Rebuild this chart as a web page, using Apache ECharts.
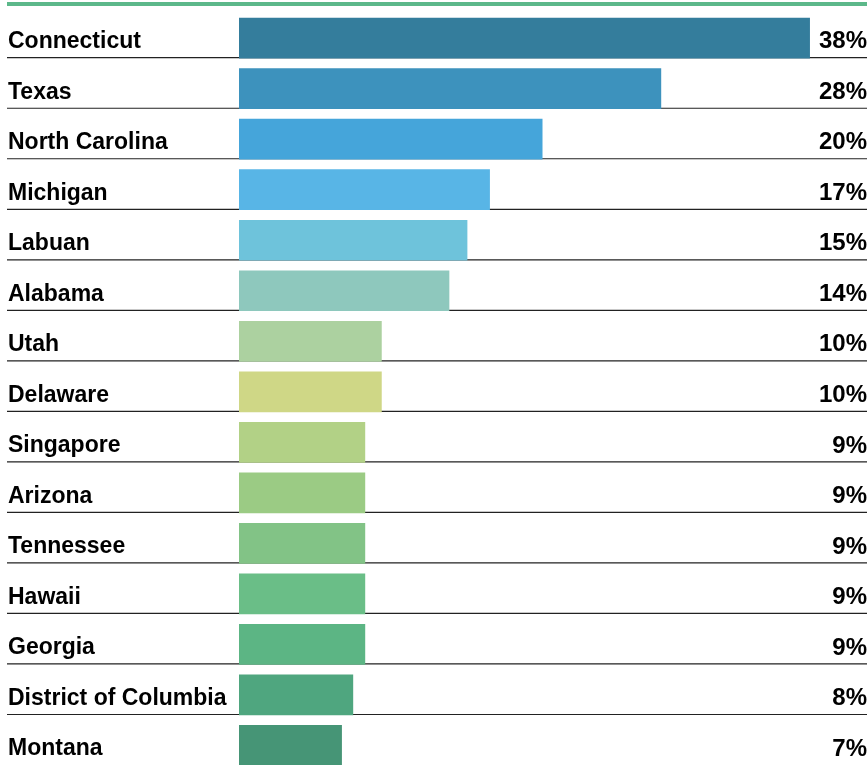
<!DOCTYPE html>
<html>
<head>
<meta charset="utf-8">
<script src="https://cdn.jsdelivr.net/npm/echarts@6/dist/echarts.min.js"></script>
<style>html,body{margin:0;padding:0;background:#fff;}#c{width:867px;height:765px;}</style>
</head>
<body>
<div id="c"></div>
<script>
const categories = ["Connecticut","Texas","North Carolina","Michigan","Labuan","Alabama","Utah","Delaware","Singapore","Arizona","Tennessee","Hawaii","Georgia","District of Columbia","Montana"];
const values = [38.0, 28.1, 20.2, 16.7, 15.2, 14.0, 9.5, 9.5, 8.4, 8.4, 8.4, 8.4, 8.4, 7.6, 6.85];
const valueLabels = ["38%","28%","20%","17%","15%","14%","10%","10%","9%","9%","9%","9%","9%","8%","7%"];
const colors = ["#347d9c","#3d92bd","#45a5da","#58b5e6","#6ec3db","#8ec8bd","#acd1a0","#cfd786","#b2d186","#9bcb84","#82c386","#6abe87","#5cb584","#4fa67f","#469576"];

const FONT = '"Liberation Sans", Arial, Helvetica, sans-serif';
const chart = echarts.init(document.getElementById('c'), null, {renderer: 'canvas'});

chart.setOption({
  animation: false,
  graphic: [{type: 'rect', left: 7, top: 2, shape: {width: 860, height: 4}, style: {fill: '#5cb88a'}}],
  grid: {left: 239, top: 7.2, width: 601, height: 759.4, containLabel: false},
  xAxis: {type: 'value', min: 0, max: 40, show: false},
  yAxis: {type: 'category', data: categories, inverse: true, show: false},
  series: [{
    type: 'custom',
    data: values.map((v, i) => [v, i]),
    renderItem: function (params, api) {
      const i = api.value(1);
      const v = api.value(0);
      const start = api.coord([0, i]);
      const end = api.coord([v, i]);
      const band = api.size([0, 1])[1];
      const bottom = start[1] + band / 2;
      const barH = band * 0.79;
      const children = [];
      if (i < categories.length - 1) {
        children.push({type: 'line', shape: {x1: 7, y1: bottom, x2: 867, y2: bottom}, style: {stroke: '#222', lineWidth: 1.2}});
      }
      children.push(
        {type: 'rect', shape: {x: start[0], y: bottom - barH, width: end[0] - start[0], height: barH + 0.8}, style: {fill: colors[i]}},
        {type: 'text', x: 8, y: bottom - 16, style: {text: categories[i], fill: '#000', font: 'bold 23px ' + FONT, textAlign: 'left', textVerticalAlign: 'middle', verticalAlign: 'middle'}},
        {type: 'text', x: 867, y: bottom - 16, style: {text: valueLabels[i], fill: '#000', font: 'bold 24px ' + FONT, textAlign: 'right', textVerticalAlign: 'middle', verticalAlign: 'middle', align: 'right'}}
      );
      return {type: 'group', children: children};
    }
  }]
});
</script>
</body>
</html>
